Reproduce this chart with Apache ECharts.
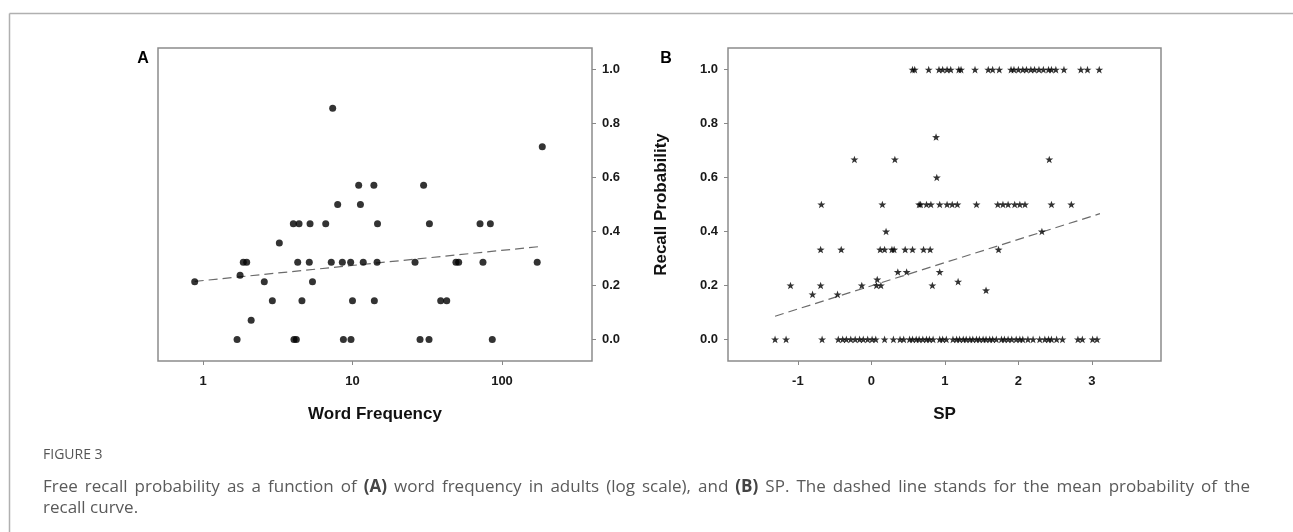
<!DOCTYPE html>
<html><head><meta charset="utf-8">
<script src="https://cdn.jsdelivr.net/npm/echarts@6/dist/echarts.min.js"></script>
<style>html,body{margin:0;padding:0;background:#fff}#c{width:1293px;height:532px}</style>
</head><body><div id="c"></div>
<script>
// Tick labels
const xTicksA = [1, 10, 100];
const xTicksB = [-1, 0, 1, 2, 3];
const yTicks = [0, 0.2, 0.4, 0.6, 0.8, 1.0];

// Panel A: [word frequency, recall probability]
const pointsA = [
  [0.88, 0.214], [7.37, 0.857], [186, 0.714],
  [11.0, 0.571], [13.9, 0.571], [29.9, 0.571],
  [7.96, 0.5], [11.3, 0.5],
  [4.02, 0.429], [4.39, 0.429], [5.2, 0.429], [6.62, 0.429], [14.7, 0.429], [32.7, 0.429], [71.3, 0.429], [83.6, 0.429],
  [3.24, 0.357],
  [1.86, 0.286], [1.96, 0.286], [4.30, 0.286], [5.14, 0.286], [7.21, 0.286], [8.55, 0.286], [9.72, 0.286], [11.8, 0.286],
  [14.6, 0.286], [26.2, 0.286], [49.2, 0.286], [51.3, 0.286], [74.6, 0.286], [172, 0.286],
  [1.77, 0.238],
  [2.57, 0.214], [5.4, 0.214],
  [2.91, 0.143], [4.59, 0.143], [10.0, 0.143], [14.0, 0.143], [38.9, 0.143], [42.7, 0.143],
  [2.1, 0.071],
  [1.69, 0], [4.06, 0], [4.21, 0], [8.69, 0], [9.77, 0], [28.3, 0], [32.5, 0], [86.1, 0]
];
const trendA = [[0.88, 0.215], [185, 0.345]];

// Panel B: [SP, recall probability]
const pointsB = [
  [-1.31, 0], [-1.16, 0], [-0.67, 0], [-0.45, 0], [-0.39, 0], [-0.34, 0], [-0.28, 0], [-0.22, 0], [-0.16, 0], [-0.11, 0],
  [-0.05, 0], [0.01, 0], [0.06, 0], [0.18, 0], [0.30, 0], [0.39, 0], [0.44, 0], [0.52, 0], [0.56, 0], [0.61, 0],
  [0.65, 0], [0.70, 0], [0.75, 0], [0.79, 0], [0.84, 0], [0.93, 0], [0.97, 0], [1.02, 0], [1.11, 0], [1.16, 0],
  [1.20, 0], [1.25, 0], [1.29, 0], [1.34, 0], [1.38, 0], [1.43, 0], [1.47, 0], [1.52, 0], [1.56, 0], [1.61, 0],
  [1.65, 0], [1.70, 0], [1.77, 0], [1.81, 0], [1.86, 0], [1.91, 0], [1.97, 0], [2.02, 0], [2.06, 0], [2.13, 0],
  [2.20, 0], [2.29, 0], [2.36, 0], [2.41, 0], [2.45, 0], [2.52, 0], [2.60, 0], [2.81, 0], [2.87, 0], [3.01, 0], [3.07, 0],
  [-0.80, 0.167], [-0.46, 0.167],
  [1.56, 0.182],
  [-1.10, 0.2], [-0.69, 0.2], [-0.13, 0.2], [0.07, 0.2], [0.13, 0.2], [0.83, 0.2],
  [1.18, 0.214],
  [0.08, 0.222],
  [0.36, 0.25], [0.48, 0.25], [0.93, 0.25],
  [-0.69, 0.333], [-0.41, 0.333], [0.12, 0.333], [0.18, 0.333], [0.28, 0.333], [0.31, 0.333], [0.46, 0.333],
  [0.56, 0.333], [0.71, 0.333], [0.80, 0.333], [1.73, 0.333],
  [0.20, 0.4], [2.32, 0.4],
  [-0.68, 0.5], [0.15, 0.5], [0.65, 0.5], [0.67, 0.5], [0.75, 0.5], [0.81, 0.5], [0.93, 0.5], [1.03, 0.5], [1.10, 0.5],
  [1.17, 0.5], [1.43, 0.5], [1.72, 0.5], [1.79, 0.5], [1.86, 0.5], [1.95, 0.5], [2.02, 0.5], [2.09, 0.5], [2.45, 0.5], [2.72, 0.5],
  [0.89, 0.6],
  [-0.23, 0.667], [0.32, 0.667], [2.42, 0.667],
  [0.88, 0.75],
  [0.56, 1], [0.59, 1], [0.78, 1], [0.92, 1], [0.97, 1], [1.03, 1], [1.08, 1], [1.19, 1], [1.22, 1], [1.41, 1],
  [1.59, 1], [1.65, 1], [1.74, 1], [1.90, 1], [1.94, 1], [2.0, 1], [2.06, 1], [2.11, 1], [2.17, 1], [2.22, 1],
  [2.28, 1], [2.34, 1], [2.41, 1], [2.45, 1], [2.51, 1], [2.62, 1], [2.85, 1], [2.94, 1], [3.10, 1]
];
const trendB = [[-1.31, 0.086], [3.11, 0.466]];

// Caption text
const captionLine1 = 'Free recall probability as a function of **(A)** word frequency in adults (log scale), and **(B)** SP. The dashed line stands for the mean probability of the';
const captionLine2 = 'recall curve.';

const FONT = '"Liberation Sans", Arial, sans-serif';
const CAP = '"Open Sans", "Noto Sans", sans-serif';
const STAR = 'path://M0,-10L2.35,-3.24L9.51,-3.09L3.8,1.24L5.88,8.09L0,4L-5.88,8.09L-3.8,1.24L-9.51,-3.09L-2.35,-3.24Z';

const tickStyle = { length: 4, lineStyle: { color: '#888', width: 1 } };
const labelStyle = { color: '#1a1a1a', fontFamily: FONT, fontWeight: 'bold', fontSize: 13 };
const noLine = { show: false, onZero: false };

// Justified first caption line: place each word with equal extra spacing
const capSize = 17, capLeft = 43, capRight = 1250;
const ctx = document.createElement('canvas').getContext('2d');
const words = captionLine1.split(' ').map(w => {
  const bold = w.startsWith('**');
  const txt = w.replace(/\*\*/g, '');
  ctx.font = (bold ? 'bold ' : '') + capSize + 'px ' + CAP;
  return { txt, bold, w: ctx.measureText(txt).width };
});
const totalW = words.reduce((s, w) => s + w.w, 0);
const gap = Math.max(4, (capRight - capLeft - totalW) / (words.length - 1));
const captionGraphics = [];
let cx = capLeft;
words.forEach(w => {
  captionGraphics.push({ type: 'text', x: cx, y: 487, style: {
    text: w.txt, fontFamily: CAP, fontSize: capSize, fontWeight: w.bold ? 'bold' : 'normal',
    fill: w.bold ? '#444' : '#5a5a5a', verticalAlign: 'middle' } });
  cx += w.w + gap;
});

const chart = echarts.init(document.getElementById('c'), null, { renderer: 'canvas' });
chart.setOption({
  animation: false,
  backgroundColor: '#fff',
  grid: [
    { left: 158, top: 48, width: 434, height: 313, show: true, borderColor: '#8c8c8c', borderWidth: 1.5, containLabel: false },
    { left: 728, top: 48, width: 433, height: 313, show: true, borderColor: '#8c8c8c', borderWidth: 1.5, containLabel: false }
  ],
  xAxis: [
    {
      type: 'log', logBase: 10, gridIndex: 0, min: 0.5, max: 400,
      axisLine: noLine, splitLine: { show: false },
      axisTick: Object.assign({ customValues: xTicksA }, tickStyle),
      axisLabel: Object.assign({ customValues: xTicksA, margin: 14, formatter: v => String(v) }, labelStyle),
      name: 'Word Frequency', nameLocation: 'middle', nameGap: 45,
      nameTextStyle: { fontFamily: FONT, fontWeight: 'bold', fontSize: 17, color: '#111' }
    },
    {
      type: 'value', gridIndex: 1, min: -1.95, max: 3.94,
      axisLine: noLine, splitLine: { show: false },
      axisTick: Object.assign({ customValues: xTicksB }, tickStyle),
      axisLabel: Object.assign({ customValues: xTicksB, margin: 14, formatter: v => String(v) }, labelStyle),
      name: 'SP', nameLocation: 'middle', nameGap: 45,
      nameTextStyle: { fontFamily: FONT, fontWeight: 'bold', fontSize: 17, color: '#111' }
    }
  ],
  yAxis: [
    {
      type: 'value', gridIndex: 0, position: 'right', min: -0.08, max: 1.08,
      axisLine: noLine, splitLine: { show: false },
      axisTick: Object.assign({ customValues: yTicks }, tickStyle),
      axisLabel: Object.assign({ customValues: yTicks, margin: 10, formatter: v => v.toFixed(1) }, labelStyle)
    },
    {
      type: 'value', gridIndex: 1, position: 'left', min: -0.08, max: 1.08,
      axisLine: noLine, splitLine: { show: false },
      axisTick: Object.assign({ customValues: yTicks }, tickStyle),
      axisLabel: Object.assign({ customValues: yTicks, margin: 10, formatter: v => v.toFixed(1) }, labelStyle),
      name: 'Recall Probability', nameLocation: 'middle', nameGap: 58, nameRotate: 90,
      nameTextStyle: { fontFamily: FONT, fontWeight: 'bold', fontSize: 17, color: '#111' }
    }
  ],
  series: [
    {
      type: 'line', xAxisIndex: 0, yAxisIndex: 0, data: trendA, symbol: 'none', silent: true,
      lineStyle: { color: '#6b6b6b', width: 1.2, type: [9, 5] }, z: 1
    },
    {
      type: 'scatter', xAxisIndex: 0, yAxisIndex: 0, data: pointsA, symbol: 'circle', symbolSize: 7,
      itemStyle: { color: '#000' }, z: 2
    },
    {
      type: 'line', xAxisIndex: 1, yAxisIndex: 1, data: trendB, symbol: 'none', silent: true,
      lineStyle: { color: '#6b6b6b', width: 1.2, type: [9, 5] }, z: 1
    },
    {
      type: 'scatter', xAxisIndex: 1, yAxisIndex: 1, data: pointsB, symbol: STAR, symbolSize: 8, symbolKeepAspect: true,
      itemStyle: { color: '#000' }, z: 2
    }
  ],
  graphic: [
    { type: 'line', shape: { x1: 9.5, y1: 13.5, x2: 1293, y2: 13.5 }, style: { stroke: '#b0b0b0', lineWidth: 1.5 } },
    { type: 'line', shape: { x1: 9.5, y1: 13.5, x2: 9.5, y2: 532 }, style: { stroke: '#b0b0b0', lineWidth: 1.5 } },
    { type: 'text', x: 143, y: 59, style: { text: 'A', fontFamily: FONT, fontWeight: 'bold', fontSize: 16, fill: '#000', align: 'center', verticalAlign: 'middle' } },
    { type: 'text', x: 666, y: 59, style: { text: 'B', fontFamily: FONT, fontWeight: 'bold', fontSize: 16, fill: '#000', align: 'center', verticalAlign: 'middle' } },
    { type: 'text', x: 43, y: 455, style: { text: 'FIGURE 3', fontFamily: CAP, fontSize: 14, fill: '#555', verticalAlign: 'middle' } },
    { type: 'text', x: 43, y: 508, style: { text: captionLine2, fontFamily: CAP, fontSize: capSize, fill: '#5a5a5a', verticalAlign: 'middle' } }
  ].concat(captionGraphics)
});
</script>
</body></html>
